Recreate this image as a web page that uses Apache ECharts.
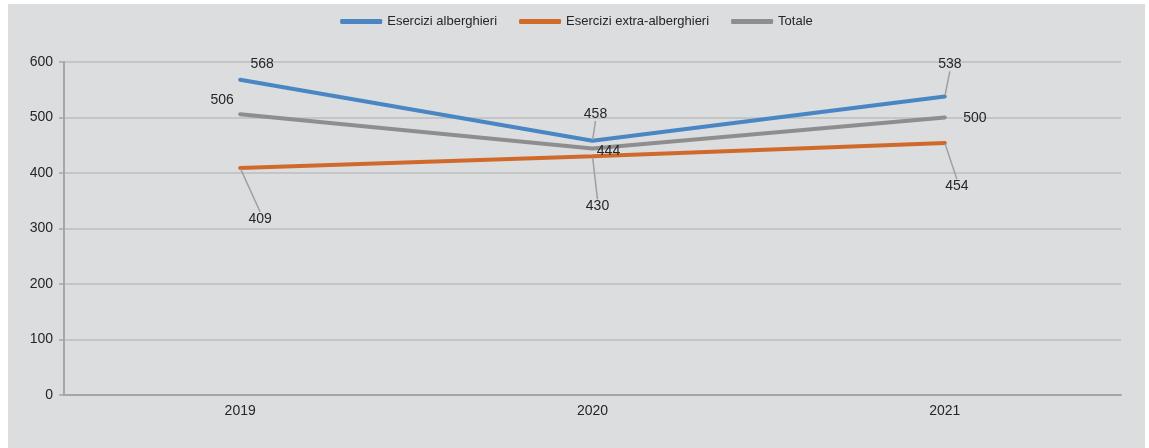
<!DOCTYPE html>
<html>
<head>
<meta charset="utf-8">
<script src="https://cdn.jsdelivr.net/npm/echarts@6/dist/echarts.min.js"></script>
<style>
  html, body { margin: 0; padding: 0; background: #ffffff; }
  #chart { position: absolute; left: 8px; top: 4px; width: 1137px; height: 444px; background: #dcdddf; }
</style>
</head>
<body>
<div id="chart"></div>
<script>
const categories = ['2019', '2020', '2021'];
const seriesNames = ['Esercizi alberghieri', 'Esercizi extra-alberghieri', 'Totale'];
const alberghieri = [568, 458, 538];
const extraAlberghieri = [409, 430, 454];
const totale = [506, 444, 500];
const yTicks = { min: 0, max: 600, interval: 100 };

const colors = ['#4a86c4', '#d06a2b', '#8e8e8e'];
// label placement relative to the point: [dx, dy, showLeaderLine]
const labelPlacement = [
  [[22, -16, false], [3, -27, true], [5, -32, true]],
  [[20, 51, true], [5, 50, true], [12, 43, true]],
  [[-18, -14, false], [16, 3, false], [30, 1, false]]
];

const chart = echarts.init(document.getElementById('chart'));
const valueSets = [alberghieri, extraAlberghieri, totale];

const series = valueSets.map((vals, si) => ({
  name: seriesNames[si],
  type: 'line',
  data: vals.map((v, di) => ({
    value: v,
    labelLine: { show: labelPlacement[si][di][2] }
  })),
  symbol: 'circle',
  symbolSize: 2,
  showSymbol: true,
  z: si === 0 ? 4 : (si === 2 ? 3 : 2),
  lineStyle: { color: colors[si], width: 4, cap: 'round' },
  itemStyle: { color: colors[si] },
  label: {
    show: true,
    position: 'inside',
    color: '#262626',
    fontFamily: 'Liberation Sans, Arial, sans-serif',
    fontSize: 14
  },
  labelLine: {
    show: true,
    lineStyle: { color: '#a0a0a0', width: 1.5 }
  },
  labelLayout: function (params) {
    const p = labelPlacement[params.seriesIndex][params.dataIndex];
    return { dx: p[0], dy: p[1] };
  },
  emphasis: { disabled: true },
  animation: false
}));

chart.setOption({
  animation: false,
  color: colors,
  textStyle: { fontFamily: 'Liberation Sans, Arial, sans-serif' },
  legend: {
    top: 6,
    left: 'center',
    icon: 'roundRect',
    itemWidth: 42,
    itemHeight: 5,
    itemGap: 22,
    textStyle: { fontSize: 13, color: '#262626', fontFamily: 'Liberation Sans, Arial, sans-serif' },
    data: seriesNames
  },
  grid: { left: 56, right: 24, top: 58, bottom: 53, containLabel: false },
  xAxis: {
    type: 'category',
    data: categories,
    boundaryGap: true,
    axisLine: { show: true, lineStyle: { color: '#a6a6a6', width: 2 } },
    axisTick: { show: false },
    axisLabel: { color: '#262626', fontSize: 14, margin: 9, fontFamily: 'Liberation Sans, Arial, sans-serif' },
    splitLine: { show: false }
  },
  yAxis: {
    type: 'value',
    min: yTicks.min,
    max: yTicks.max,
    interval: yTicks.interval,
    axisLine: { show: true, lineStyle: { color: '#a6a6a6', width: 2 } },
    axisTick: { show: true, length: 5, lineStyle: { color: '#a6a6a6', width: 1.5 } },
    axisLabel: { color: '#262626', fontSize: 14, margin: 11, fontFamily: 'Liberation Sans, Arial, sans-serif' },
    splitLine: { show: true, lineStyle: { color: '#bcbcbc', width: 1.5 } }
  },
  series: series
});
</script>
</body>
</html>
